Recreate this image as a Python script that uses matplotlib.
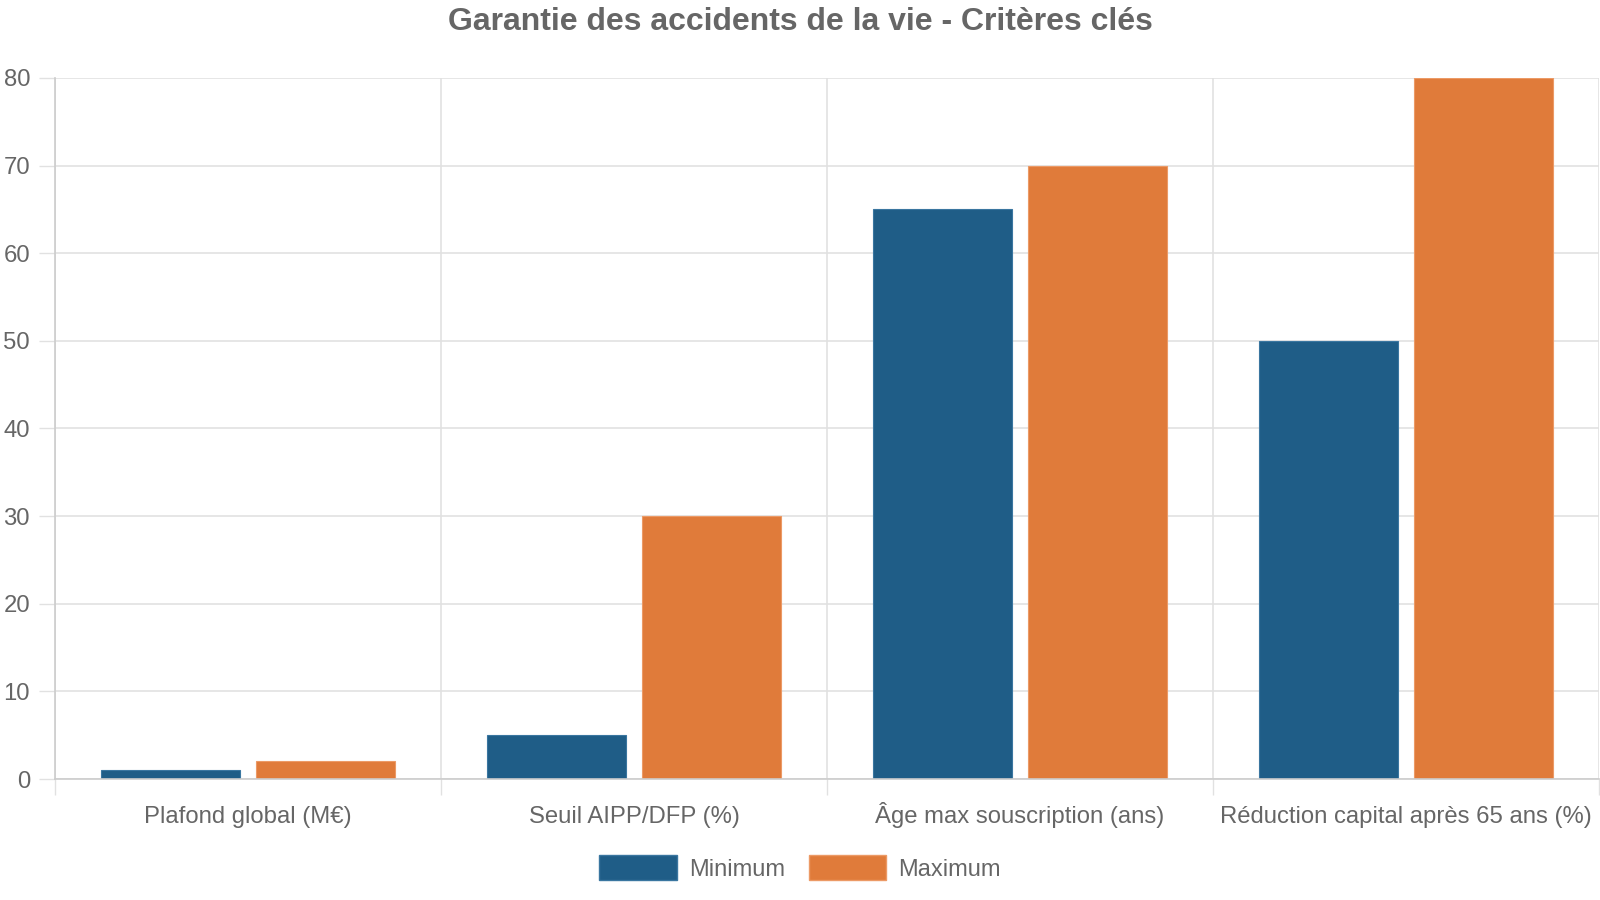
import matplotlib
matplotlib.use("Agg")
import matplotlib.pyplot as plt
import numpy as np
from matplotlib.patches import Patch

categories = ["Plafond global (M€)", "Seuil AIPP/DFP (%)", "Âge max souscription (ans)", "Réduction capital après 65 ans (%)"]
minimum = [1, 5, 65, 50]
maximum = [2, 30, 70, 80]
series_names = ["Minimum", "Maximum"]
title = "Garantie des accidents de la vie - Critères clés"
yticks = [0, 10, 20, 30, 40, 50, 60, 70, 80]

BLUE = "#1f5d87"
ORANGE = "#e07b3a"
TEXT = "#666666"
GRID = "#e1e1e1"
AXIS = "#cccccc"

plt.rcParams['font.family'] = ['Liberation Sans', 'DejaVu Sans']

fig = plt.figure(figsize=(16, 9), dpi=100)
ax = fig.add_axes([55/1600, 1 - 779/900, 1544/1600, (779-78)/900])

x = np.arange(len(categories))
w = 0.36
ax.bar(x - 0.2, minimum, w, color=BLUE, edgecolor="#3a76a0", linewidth=0.8, zorder=3)
ax.bar(x + 0.2, maximum, w, color=ORANGE, edgecolor="#ec9a66", linewidth=0.8, zorder=3)

ax.set_xlim(-0.5, len(categories) - 0.5)
ax.set_ylim(0, 80)
ax.set_yticks(yticks)
ax.set_yticklabels([str(v) for v in yticks])
ax.set_xticks(x)
ax.set_xticklabels(categories)
ax.set_xticks(np.arange(-0.5, len(categories)), minor=True)

ax.tick_params(axis='x', which='major', length=0, pad=31.5, labelsize=17.2, labelcolor=TEXT)
ax.tick_params(axis='x', which='minor', length=11.5, width=1, color=GRID)
ax.tick_params(axis='y', length=11.5, width=1, color=GRID, pad=6.5, labelsize=17.2, labelcolor=TEXT)
for lab in ax.get_xticklabels():
    lab.set_va('baseline')

ax.grid(True, axis='y', which='major', color=GRID, linewidth=1.2, zorder=0)
ax.grid(True, axis='x', which='minor', color=GRID, linewidth=1.2, zorder=0)
ax.grid(False, axis='x', which='major')

for s in ['top', 'right']:
    ax.spines[s].set_visible(False)
ax.spines['left'].set_color(AXIS)
ax.spines['bottom'].set_color(AXIS)
ax.spines['left'].set_linewidth(1.2)
ax.spines['bottom'].set_linewidth(1.2)
ax.spines['left'].set_zorder(4)
ax.spines['bottom'].set_zorder(4)

fig.text(0.5, 1 - 22/900, title, ha='center', va='center', fontsize=23, fontweight='bold', color=TEXT)

handles = [Patch(facecolor=BLUE, edgecolor="#3a76a0"), Patch(facecolor=ORANGE, edgecolor="#ec9a66")]
fig.legend(handles, series_names, loc='center', bbox_to_anchor=(0.5, 1 - 868/900), ncol=2, frameon=False,
           fontsize=17, labelcolor=TEXT, handlelength=3.3, handleheight=1.2, handletextpad=0.5, columnspacing=1.0)

fig.savefig("out.png", dpi=100)
